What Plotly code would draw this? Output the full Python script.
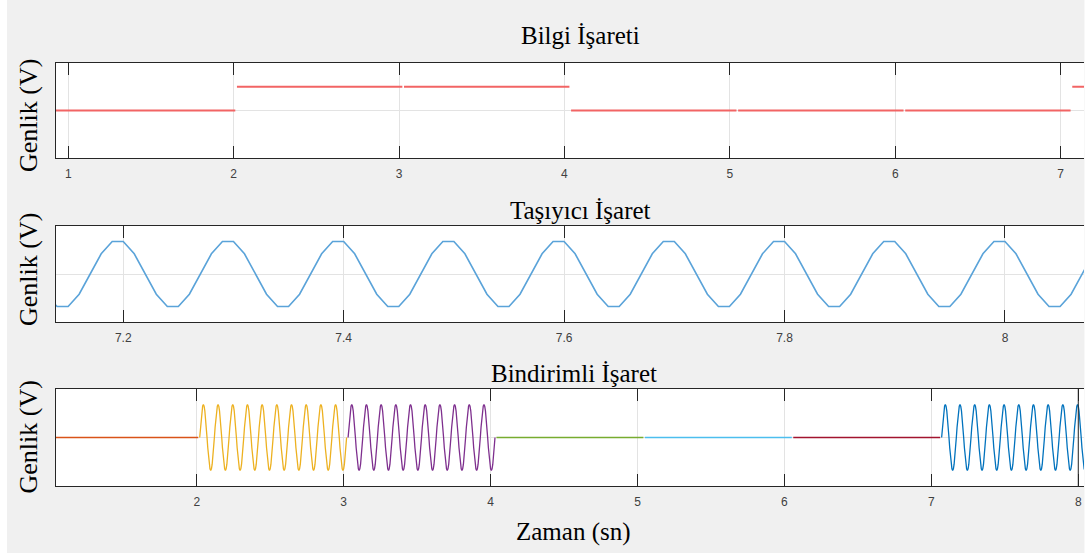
import numpy as np
import plotly.graph_objects as go

# ---- data -------------------------------------------------------------
bits = [0, 1, 1, 0, 0, 0, 1]
seg_start = [0.90, 2.02, 3.03, 4.04, 5.05, 6.06, 7.07]
seg_end = [2.01, 3.02, 4.03, 5.04, 6.05, 7.06, 8.07]
seg_colors = ["#D95319", "#EDB120", "#7E2F8E", "#77AC30", "#4DBEEE", "#A2142F", "#0072BD"]

# carrier: coarse samples (0.01 s step), one period of 10 samples starting at t0
carrier_t0 = 7.13
carrier_dt = 0.01
carrier_cycle = [-0.59, -0.95, -0.95, -0.59, 0.0, 0.59, 0.95, 0.95, 0.59, 0.0]
carrier_periods = 10

# modulated signal: one carrier period, 20 samples, 10 periods per bit
mod_cycle = [0.0, 0.31, 0.59, 0.81, 0.95, 1.0, 0.95, 0.81, 0.59, 0.31,
             0.0, -0.31, -0.59, -0.81, -0.95, -1.0, -0.95, -0.81, -0.59, -0.31]
mod_periods = 10

top_ticks = [1, 2, 3, 4, 5, 6, 7]
mid_ticks = [7.2, 7.4, 7.6, 7.8, 8]
mid_ticktext = ["7.2", "7.4", "7.6", "7.8", "8"]
bot_ticks = [2, 3, 4, 5, 6, 7, 8]

# ---- figure -----------------------------------------------------------
W, H = 1091, 553
fig = go.Figure()

# Bilgi işareti (bit levels)
for b, s, e in zip(bits, seg_start, seg_end):
    fig.add_trace(go.Scatter(x=[s, e], y=[b, b], mode="lines",
                             line=dict(color="#f26464", width=1.8),
                             xaxis="x", yaxis="y", showlegend=False, hoverinfo="skip"))

# Taşıyıcı işaret
c_vals = np.tile(carrier_cycle, carrier_periods)
c_t = np.round(carrier_t0 + carrier_dt * np.arange(len(c_vals)), 4)
fig.add_trace(go.Scatter(x=c_t, y=c_vals, mode="lines",
                         line=dict(color="#5aa3d9", width=1.6),
                         xaxis="x2", yaxis="y2", showlegend=False, hoverinfo="skip"))

# Bindirimli işaret
for b, s, e, col in zip(bits, seg_start, seg_end, seg_colors):
    if b:
        y = np.append(np.tile(mod_cycle, mod_periods), 0.0)
        x = s + (e - s) * np.arange(len(y)) / (len(y) - 1)
    else:
        x, y = [s, e], [0, 0]
    fig.add_trace(go.Scatter(x=x, y=y, mode="lines",
                             line=dict(color=col, width=1.3),
                             xaxis="x3", yaxis="y3", showlegend=False, hoverinfo="skip"))


def px_x(a, b):
    return [a / W, b / W]


def px_y(top, bottom):
    return [1 - bottom / H, 1 - top / H]


axis_common = dict(showline=True, linecolor="#262626", linewidth=1,
                   ticks="inside", ticklen=12, tickcolor="#262626", tickwidth=1,
                   mirror="ticks", showgrid=True, gridcolor="#e3e3e3", gridwidth=1,
                   zeroline=False, ticklabelstandoff=5,
                   tickfont=dict(family="Liberation Sans, Arial", size=12, color="#404040"))
yaxis_common = dict(showline=True, linecolor="#262626", linewidth=1, ticks="",
                    showticklabels=False, showgrid=True, gridcolor="#e3e3e3",
                    zeroline=False, tickvals=[0], fixedrange=True)

fig.update_layout(
    width=W, height=H,
    margin=dict(l=0, r=0, t=0, b=0),
    paper_bgcolor="#f0f0f0", plot_bgcolor="white",
    xaxis=dict(axis_common, domain=px_x(56, 1084), range=[0.926, 7.141],
               tickvals=top_ticks, anchor="y"),
    yaxis=dict(yaxis_common, domain=px_y(63, 158), range=[-2, 2], anchor="x"),
    xaxis2=dict(axis_common, domain=px_x(56, 1084), range=[7.139, 8.0717],
                tickvals=mid_ticks, ticktext=mid_ticktext, anchor="y2"),
    yaxis2=dict(yaxis_common, domain=px_y(226, 322), range=[-1.4, 1.4], anchor="x2"),
    xaxis3=dict(axis_common, domain=px_x(56, 1084), range=[1.042, 8.039],
                tickvals=bot_ticks, anchor="y3"),
    yaxis3=dict(yaxis_common, domain=px_y(389, 486), range=[-1.47, 1.47], anchor="x3"),
)

# white margins at the left and right edges of the window
fig.add_shape(type="rect", xref="paper", yref="paper", x0=0, x1=7 / W, y0=0, y1=1,
              fillcolor="white", line=dict(width=0), layer="below")
fig.add_shape(type="rect", xref="paper", yref="paper", x0=1084.5 / W, x1=1, y0=0, y1=1,
              fillcolor="white", line=dict(width=0), layer="below")
# right border of the lower axes
fig.add_shape(type="line", xref="x3", yref="y3 domain", x0=8, x1=8, y0=0, y1=1,
              line=dict(color="#262626", width=1))

serif = "Liberation Serif, Times New Roman, serif"
titles = [("Bilgi İşareti", 580, 35), ("Taşıyıcı İşaret", 580, 210),
          ("Bindirimli İşaret", 574, 373), ("Zaman (sn)", 573, 532)]
for txt, cx, cy in titles:
    fig.add_annotation(text=txt, xref="paper", yref="paper", x=cx / W, y=1 - cy / H,
                       xanchor="center", yanchor="middle", showarrow=False,
                       font=dict(family=serif, size=25, color="black"))
for cy in (116, 270, 437.5):
    fig.add_annotation(text="Genlik (V)", xref="paper", yref="paper", x=28 / W, y=1 - cy / H,
                       xanchor="center", yanchor="middle", showarrow=False, textangle=-90,
                       font=dict(family=serif, size=26, color="black"))

fig.write_html("out.html")
